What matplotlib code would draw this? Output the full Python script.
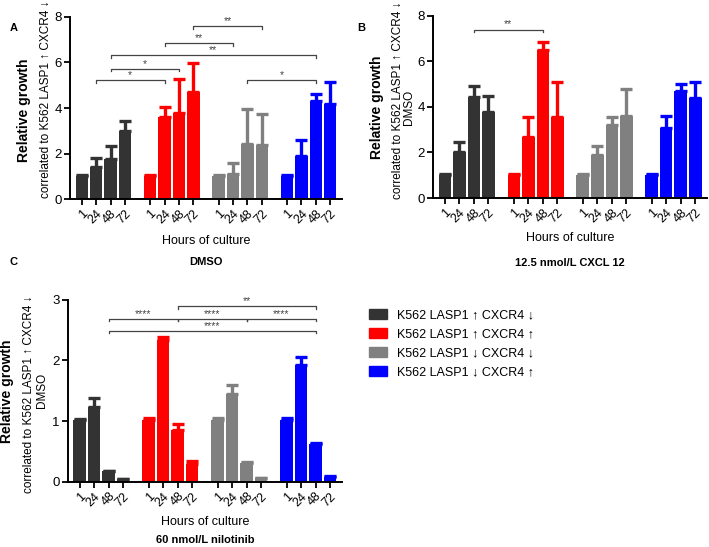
import matplotlib
matplotlib.use("Agg")
import matplotlib.pyplot as plt
import matplotlib.patches as mpatches
import numpy as np

plt.rcParams['font.family'] = ['Liberation Sans', 'DejaVu Sans']

hours = ["1", "24", "48", "72"]
lines = ["K562 LASP1 \u2191 CXCR4 \u2193", "K562 LASP1 \u2191 CXCR4 \u2191",
         "K562 LASP1 \u2193 CXCR4 \u2193", "K562 LASP1 \u2193 CXCR4 \u2191"]
colors = ["#333333", "#ff0000", "#808080", "#0000ff"]

# DMSO
dmso_mean = [[1.02, 1.43, 1.74, 2.97],
             [1.03, 3.59, 3.79, 4.69],
             [1.03, 1.10, 2.43, 2.38],
             [1.03, 1.91, 4.29, 4.16]]
dmso_top = [[1.06, 1.82, 2.32, 3.41],
            [1.07, 4.03, 5.26, 5.98],
            [1.07, 1.60, 3.97, 3.75],
            [1.07, 2.58, 4.63, 5.13]]

# CXCL12
cxcl_mean = [[1.02, 2.04, 4.42, 3.77],
             [1.03, 2.66, 6.50, 3.55],
             [1.03, 1.90, 3.20, 3.62],
             [1.03, 3.07, 4.70, 4.41]]
cxcl_top = [[1.06, 2.48, 4.92, 4.50],
            [1.07, 3.55, 6.86, 5.11],
            [1.07, 2.29, 3.58, 4.77],
            [1.05, 3.62, 5.01, 5.11]]

# nilotinib
nilo_mean = [[1.02, 1.23, 0.176, 0.04],
             [1.02, 2.33, 0.86, 0.30],
             [1.02, 1.45, 0.31, 0.066],
             [1.02, 1.93, 0.63, 0.077]]
nilo_top = [[1.03, 1.38, 0.18, 0.045],
            [1.05, 2.38, 0.95, 0.35],
            [1.05, 1.60, 0.33, 0.07],
            [1.05, 2.06, 0.64, 0.09]]

# brackets: (group_a, hour_a, group_b, hour_b, height, label)
dmso_sig = [(0, 1, 1, 1, 5.22, "*"), (0, 2, 1, 2, 5.73, "*"),
            (0, 2, 3, 2, 6.31, "**"), (1, 1, 2, 1, 6.86, "**"),
            (1, 3, 2, 3, 7.59, "**"), (2, 2, 3, 2, 5.22, "*")]
cxcl_sig = [(0, 2, 1, 2, 7.40, "**")]
nilo_sig = [(0, 2, 1, 2, 2.69, "****"), (1, 2, 3, 2, 2.89, "**"),
            (1, 2, 2, 2, 2.69, "****"), (2, 2, 3, 2, 2.69, "****"),
            (0, 2, 3, 2, 2.49, "****")]

GAP = 4.75
W = 0.86


def pos(g, h):
    return g * GAP + h


def panel(ax, means, tops, sig, ymax, ystep, title, tick_len, lab_x, lab_y, text_y):
    for g in range(4):
        x = [pos(g, h) for h in range(4)]
        m = np.array(means[g])
        t = np.array(tops[g])
        ax.bar(x, m, width=W, color=colors[g], zorder=2)
        ax.errorbar(x, m, yerr=[np.zeros(4), t - m], fmt='none', ecolor=colors[g],
                    elinewidth=2.4, capsize=4, capthick=2.4, zorder=1)
    for ga, ha, gb, hb, h, lab in sig:
        xa, xb = pos(ga, ha), pos(gb, hb)
        ax.plot([xa, xa, xb, xb], [h - tick_len, h, h, h - tick_len],
                color="#444444", lw=0.9, zorder=3)
        ax.text((xa + xb) / 2, h, lab, ha='center', va='bottom', fontsize=7.5,
                color="#444444")
    ax.set_xlim(-0.8, pos(3, 3) + 0.8)
    ax.set_ylim(0, ymax)
    ax.set_yticks(np.arange(0, ymax + 0.01, ystep))
    ax.set_xticks([pos(g, h) for g in range(4) for h in range(4)])
    ax.set_xticklabels(hours * 4, rotation=45, ha='right', va='top',
                       rotation_mode='anchor', fontsize=9)
    ax.tick_params(axis='y', labelsize=9.5, width=1.3, length=4, color='black', pad=2)
    ax.tick_params(axis='x', width=1.3, length=4, pad=2)
    for s in ['top', 'right']:
        ax.spines[s].set_visible(False)
    for s in ['left', 'bottom']:
        ax.spines[s].set_linewidth(1.4)
    ax.text(0.5, text_y[0], "Hours of culture", transform=ax.transAxes,
            ha='center', va='center', fontsize=9)
    ax.text(0.5, text_y[1], title, transform=ax.transAxes, ha='center',
            va='center', fontsize=8, fontweight='bold')
    ax.text(lab_x[0], lab_y[0], "Relative growth", transform=ax.transAxes, rotation=90,
            ha='center', va='center', fontsize=10, fontweight='bold')
    ax.text(lab_x[1], lab_y[1], "correlated to K562 LASP1 \u2191 CXCR4 \u2193",
            transform=ax.transAxes, rotation=90, ha='center', va='center',
            fontsize=8.5)
    if len(lab_x) > 2:
        ax.text(lab_x[2], lab_y[2], "DMSO", transform=ax.transAxes, rotation=90,
                ha='center', va='center', fontsize=8.5)


fig = plt.figure(figsize=(7.09, 5.47), dpi=100)
axA = fig.add_axes([0.099, 0.636, 0.383, 0.333])
axB = fig.add_axes([0.611, 0.638, 0.386, 0.333])
axC = fig.add_axes([0.096, 0.119, 0.386, 0.333])

panel(axA, dmso_mean, dmso_top, dmso_sig, 8, 2, "DMSO", 0.12,
      [-0.17, -0.09], [0.49, 0.55], [-0.23, -0.346])
panel(axB, cxcl_mean, cxcl_top, cxcl_sig, 8, 2, "12.5 nmol/L CXCL 12", 0.12,
      [-0.204, -0.13, -0.088], [0.5, 0.535, 0.5], [-0.22, -0.357])
panel(axC, nilo_mean, nilo_top, nilo_sig, 3, 1, "60 nmol/L nilotinib", 0.045,
      [-0.222, -0.142, -0.097], [0.5, 0.48, 0.5], [-0.22, -0.32])

fig.text(0.014, 0.948, "A", fontsize=8, fontweight='bold', ha='left', va='center')
fig.text(0.504, 0.948, "B", fontsize=8, fontweight='bold', ha='left', va='center')
fig.text(0.014, 0.521, "C", fontsize=8, fontweight='bold', ha='left', va='center')

handles = [mpatches.Patch(color=c, label=l) for c, l in zip(colors, lines)]
fig.legend(handles=handles, loc='upper left', bbox_to_anchor=(0.504, 0.455),
           frameon=False, fontsize=9, handlelength=1.5, handleheight=0.8,
           handletextpad=0.8, labelspacing=0.55)

fig.savefig("out.png", dpi=100)
